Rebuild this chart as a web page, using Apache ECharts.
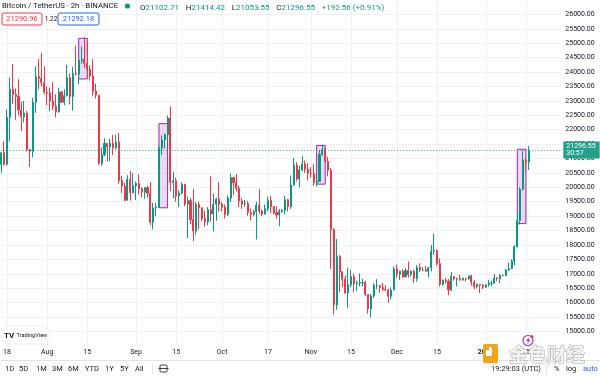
<!DOCTYPE html>
<html>
<head>
<meta charset="utf-8">
<script src="https://cdn.jsdelivr.net/npm/echarts@6/dist/echarts.min.js"></script>
<style>
  html, body { margin: 0; padding: 0; background: #fff; }
  #chart { width: 600px; height: 377px; }
</style>
</head>
<body>
<div id="chart"></div>
<script>
// daily bars, rows are [open, high, low, close]
const jul = [
  [20800,21200,20500,21200],[21200,21600,20750,20800],[20800,22700,20750,22430],[22430,23800,21600,23400],
  [23400,24280,22900,23220],[23220,23430,22340,23150],[23150,23750,22500,22680],[22680,22980,21950,22450],
  [22450,22990,22250,22580],[22580,22650,21250,21310],[21310,21330,20700,21250],[21250,23100,21040,22950],
  [22950,24200,22580,23840],[23840,24450,23400,23780],[23780,24670,23500,23640],[23640,24200,23230,23300]
];
const aug = [
  [23300,23500,22850,23270],[23270,23460,22650,22990],[22990,23650,22680,22820],[22820,23230,22430,22620],
  [22620,23460,22590,23310],[23310,23350,22930,22950],[22950,23400,22850,23180],[23180,24250,23150,23810],
  [23810,23950,22880,23150],[23150,24180,22660,23950],[23950,24920,23880,23930],[23930,24460,23580,24400],
  [24400,24890,24290,24440],[24440,25210,24150,24300],[24300,25050,23770,24100],[24100,24230,23700,23860],
  [23860,24450,23180,23340],[23340,23600,23080,23200],[23200,23200,20780,20830],[20830,21380,20750,21140],
  [21140,21700,21080,21520],[21520,21530,20900,21400],[21400,21680,20900,21530],[21530,21820,21120,21370],
  [21370,21820,21310,21570],[21570,21880,20120,20240],[20240,20400,19800,20040],[20040,20150,19520,19550],
  [19550,20420,19550,20280],[20280,20570,19540,19810],[19810,20490,19800,20050]
];
const sep = [
  [20050,20200,19560,20130],[20130,20450,19760,19950],[19950,20000,19650,19830],[19830,20000,19600,19990],
  [19990,20060,19640,19790],[19790,20180,18680,18790],[18790,19460,18540,19290],[19290,19450,19000,19320],
  [19320,21400,19300,21360],[21360,21800,21110,21650],[21650,21860,21350,21830],[21830,22490,21560,22400],
  [22400,22800,19860,20170],[20170,20530,19620,20230],[20230,20330,19500,19700],[19700,19890,19320,19800],
  [19800,20180,19760,20110],[20110,20110,19340,19420],[19420,19680,18230,19540],[19540,19630,18720,18880],
  [18880,19950,18130,18480],[18480,19490,18360,19400],[19400,19500,18540,19290],[19290,19300,18820,18920],
  [18920,19180,18630,18800],[18800,19310,18680,19220],[19220,20380,18810,19080],[19080,19790,18470,19410],
  [19410,19640,18840,19590],[19590,20180,19160,19420]
];
const oct = [
  [19420,19480,19160,19310],[19310,19400,18920,19060],[19060,19720,19000,19630],[19630,20480,19490,20340],
  [20340,20370,19730,20160],[20160,20460,19860,19960],[19960,20060,19320,19530],[19530,19620,19250,19420],
  [19420,19560,19320,19440],[19440,19530,19020,19130],[19130,19260,18860,19060],[19060,19220,18990,19150],
  [19150,19500,18190,19380],[19380,19950,19070,19180],[19180,19230,19000,19070],[19070,19400,19060,19260],
  [19260,19680,19160,19550],[19550,19700,19100,19330],[19330,19350,19070,19120],[19120,19340,18900,19040],
  [19040,19250,18650,19160],[19160,19250,19110,19200],[19200,19700,19070,19570],[19570,19600,19160,19330],
  [19330,20410,19250,20080],[20080,21020,20060,20770],[20770,20870,20200,20290],[20290,20750,20000,20600],
  [20600,21080,20560,20810],[20810,20930,20500,20630],[20630,20840,20240,20490]
];
const nov = [
  [20490,20700,20330,20480],[20480,20800,20050,20160],[20160,20390,20030,20210],[20210,21300,20180,21150],
  [21150,21480,21080,21300],[21300,21370,20880,20900],[20900,21060,20380,20590],[20590,20670,17170,18540],
  [18540,18590,15590,15920],[15920,18200,15750,17600],[17600,17650,16360,17070],[17070,17090,16550,16810],
  [16810,16940,16300,16330],[16330,17200,15820,16620],[16620,17140,16530,16900],[16900,17000,16360,16660],
  [16660,16760,16400,16680],[16680,17010,16560,16690],[16690,16820,16560,16700],[16700,16760,16230,16280],
  [16280,16290,15620,15780],[15780,16300,15480,16230],[16230,16670,16160,16600],[16600,16810,16460,16600],
  [16600,16600,16330,16520],[16520,16690,16400,16460],[16460,16600,16400,16440],[16440,16480,16000,16220],
  [16220,16530,16110,16440],[16440,17250,16430,17170]
];
const dec = [
  [17170,17320,16860,16980],[16980,17100,16790,17090],[17090,17160,16860,16890],[16890,17200,16880,17110],
  [17110,17420,16870,16970],[16970,17110,16910,17090],[17090,17140,16680,16840],[16840,17300,16730,17220],
  [17220,17360,17060,17130],[17130,17230,17090,17130],[17130,17270,17070,17090],[17090,17240,16870,17210],
  [17210,18000,17080,17780],[17780,18390,17660,17800],[17800,17850,17280,17350],[17350,17530,16560,16630],
  [16630,16800,16580,16780],[16780,16860,16660,16740],[16740,16820,16260,16440],[16440,17060,16400,16900],
  [16900,16920,16760,16820],[16820,16870,16560,16830],[16830,16960,16760,16780],[16780,16870,16770,16840],
  [16840,16860,16730,16830],[16830,16940,16790,16920],[16920,16970,16590,16710],[16710,16780,16460,16550],
  [16550,16660,16490,16630],[16630,16640,16330,16600],[16600,16650,16470,16540]
];
const jan = [
  [16540,16630,16500,16620],[16620,16790,16550,16670],[16670,16760,16570,16670],[16670,16990,16660,16850],
  [16850,16880,16750,16830],[16830,16990,16670,16950],[16950,16970,16910,16940],[16940,17170,16910,17130],
  [17130,17390,17100,17180],[17180,17500,17160,17440],[17440,17990,17300,17940],[17940,19120,17910,18850],
  [18850,20000,18710,19930],[19930,21260,19890,20950],[20950,21000,20550,20880],[20880,21440,20600,21296.55]
];

// time scale ticks
const tickDates = ['2022-07-18','2022-08-01','2022-08-15','2022-09-01','2022-09-15','2022-10-01','2022-10-17',
  '2022-11-01','2022-11-15','2022-12-01','2022-12-15','2023-01-01','2023-01-15'];
const tickLabels = ['18','Aug','15','Sep','15','Oct','17','Nov','15','Dec','15','2023','15'];

// highlighted zones [fromDate, toDate, lowPrice, highPrice]
const highlights = [
  ['2022-08-12','2022-08-15',23760,25170],
  ['2022-09-09','2022-09-12',19290,22210],
  ['2022-11-03','2022-11-06',20110,21450],
  ['2023-01-12','2023-01-15',18740,21320]
];

// header values
const lastBar = [21102.71, 21414.42, 21053.55, 21296.55];
const change = [192.56, 0.91];
const quote = [21290.96, 1.22, 21292.18];
const countdown = '30:57';
const clock = '19:29:03 (UTC)';
const ranges = ['1D','5D','1M','3M','6M','YTD','1Y','5Y','All'];

const bars = [].concat(jul, aug, sep, oct, nov, dec, jan);
const dates = [];
const start = Date.UTC(2022, 6, 16);
for (let i = 0; i < bars.length + 11; i++) {
  dates.push(new Date(start + i * 86400000).toISOString().slice(0, 10));
}
const kData = bars.map(function (b) { return [b[0], b[3], b[2], b[1]]; });

const UP = '#089981';
const DOWN = '#f23645';
const GRID = '#eef1f6';
const TXT = '#131722';
const FONT = 'Roboto';

const chart = echarts.init(document.getElementById('chart'), null, { renderer: 'canvas' });

const isTick = function (idx, val) { return tickDates.indexOf(val) >= 0; };

const toolbar = ranges.map(function (r, i) {
  const xs = [5, 19, 36, 52, 68, 85, 105, 120, 135];
  return { type: 'text', left: xs[i], top: 365, z: 50,
    style: { text: r, fill: TXT, font: '7.5px ' + FONT } };
});

chart.setOption({
  animation: false,
  backgroundColor: '#ffffff',
  grid: { left: 1.3, right: 39.7, top: -4.6, bottom: 31.2 },
  xAxis: {
    type: 'category',
    data: dates,
    boundaryGap: false,
    axisLine: { show: false },
    axisTick: { show: false },
    axisLabel: {
      interval: isTick,
      margin: 3,
      fontSize: 7,
      fontFamily: FONT,
      color: TXT,
      formatter: function (v) {
        const t = tickLabels[tickDates.indexOf(v)];
        return t === '2023' ? '{b|' + t + '}' : t;
      },
      rich: { b: { fontWeight: 'bold', fontSize: 7, fontFamily: FONT, color: TXT } }
    },
    splitLine: { show: true, interval: isTick, lineStyle: { color: GRID, width: 1 } }
  },
  yAxis: {
    type: 'value',
    position: 'right',
    min: 14500,
    max: 26500,
    interval: 500,
    axisLine: { show: false },
    axisTick: { show: false },
    axisLabel: {
      showMinLabel: false,
      showMaxLabel: false,
      margin: 5,
      fontSize: 7,
      fontFamily: FONT,
      color: TXT,
      formatter: function (v) { return v.toFixed(2); }
    },
    splitLine: { show: true, showMinLine: false, showMaxLine: false, lineStyle: { color: GRID, width: 1 } }
  },
  series: [{
    type: 'candlestick',
    data: kData,
    barWidth: 1.6,
    itemStyle: { color: UP, color0: DOWN, borderColor: UP, borderColor0: DOWN, borderWidth: 1 },
    markArea: {
      silent: true,
      itemStyle: { color: 'rgba(206,147,216,0.36)', borderColor: '#9c27b0', borderWidth: 1 },
      data: highlights.map(function (h) {
        return [{ xAxis: h[0], yAxis: h[3] }, { xAxis: h[1], yAxis: h[2] }];
      })
    },
    markLine: {
      silent: true,
      symbol: 'none',
      lineStyle: { color: '#22a08a', type: [1, 2], width: 1 },
      label: {
        position: 'end',
        distance: 3,
        formatter: lastBar[3].toFixed(2) + '\n' + countdown,
        backgroundColor: '#22a08a',
        color: '#ffffff',
        fontSize: 7,
        lineHeight: 7.5,
        fontFamily: FONT,
        align: 'left',
        padding: [1.5, 4, 0.5, 3]
      },
      data: [{ yAxis: lastBar[3] }]
    }
  }],
  graphic: [
    { type: 'text', left: 2, top: 2, z: 50,
      style: { text: 'Bitcoin / TetherUS · 2h · BINANCE', fill: TXT, font: '7.8px ' + FONT } },
    { type: 'circle', z: 50, shape: { cx: 127.5, cy: 6, r: 2.6 }, style: { fill: UP } },
    { type: 'text', left: 140, top: 2, z: 50,
      style: {
        text: '{k|O}{v|' + lastBar[0].toFixed(2) + '}  {k|H}{v|' + lastBar[1].toFixed(2) + '}  {k|L}{v|' +
          lastBar[2].toFixed(2) + '}  {k|C}{v|' + lastBar[3].toFixed(2) + '}  {v|+' + change[0].toFixed(2) +
          ' (+' + change[1].toFixed(2) + '%)}',
        rich: {
          k: { fill: TXT, font: '8px ' + FONT },
          v: { fill: UP, font: '8px ' + FONT }
        }
      } },
    { type: 'rect', z: 50, shape: { x: 2, y: 13, width: 40, height: 12, r: 2 },
      style: { fill: '#fff', stroke: DOWN, lineWidth: 1 } },
    { type: 'text', z: 51, style: { x: 22, y: 19.5, text: quote[0].toFixed(2), fill: DOWN, font: '7.5px ' + FONT, align: 'center', verticalAlign: 'middle' } },
    { type: 'text', z: 51, style: { x: 51, y: 19.5, text: quote[1].toFixed(2), fill: TXT, font: '6.5px ' + FONT, align: 'center', verticalAlign: 'middle' } },
    { type: 'rect', z: 50, shape: { x: 58, y: 13, width: 41, height: 12, r: 2 },
      style: { fill: '#fff', stroke: '#2962ff', lineWidth: 1 } },
    { type: 'text', z: 51, style: { x: 78.5, y: 19.5, text: quote[2].toFixed(2), fill: '#2962ff', font: '7.5px ' + FONT, align: 'center', verticalAlign: 'middle' } },

    // TradingView badge
    { type: 'rect', z: 50, shape: { x: 1, y: 326, width: 49, height: 18, r: 9 },
      style: { fill: '#ffffff', stroke: '#eceff3', lineWidth: 1 } },
    { type: 'text', z: 51, style: { x: 4, y: 335.5, text: 'TV', fill: '#131722', font: 'bold 8px ' + FONT, verticalAlign: 'middle' } },
    { type: 'text', z: 51, style: { x: 16.5, y: 335.5, text: 'TradingView', fill: '#131722', font: '5.6px ' + FONT, verticalAlign: 'middle' } },

    // lightning badge
    { type: 'circle', z: 50, shape: { cx: 528, cy: 340.5, r: 5 }, style: { fill: '#fff', stroke: '#9c27b0', lineWidth: 1.1 } },
    { type: 'polygon', z: 51, shape: { points: [[529.3, 337], [526.2, 341], [528.2, 341], [527, 344], [530.3, 339.8], [528.4, 339.8]] },
      style: { fill: '#9c27b0' } },
    { type: 'circle', z: 52, shape: { cx: 532, cy: 336.5, r: 1.6 }, style: { fill: DOWN } },

    // bottom toolbar
    { type: 'line', z: 50, shape: { x1: 0, y1: 360.5, x2: 600, y2: 360.5 }, style: { stroke: '#e0e3eb', lineWidth: 1 } }
  ].concat(toolbar).concat([
    { type: 'line', z: 50, shape: { x1: 152.5, y1: 364, x2: 152.5, y2: 374 }, style: { stroke: '#e0e3eb', lineWidth: 1 } },
    { type: 'rect', z: 50, shape: { x: 160, y: 365, width: 7, height: 7, r: 1 }, style: { fill: 'none', stroke: TXT, lineWidth: 0.8 } },
    { type: 'line', z: 50, shape: { x1: 158.5, y1: 368.5, x2: 168.5, y2: 368.5 }, style: { stroke: TXT, lineWidth: 0.8 } },
    { type: 'text', left: 491, top: 365, z: 50, style: { text: clock, fill: TXT, font: '7.5px ' + FONT } },
    { type: 'line', z: 50, shape: { x1: 546.5, y1: 364, x2: 546.5, y2: 374 }, style: { stroke: '#e0e3eb', lineWidth: 1 } },
    { type: 'text', left: 554, top: 365, z: 50, style: { text: '%', fill: TXT, font: '7.5px ' + FONT } },
    { type: 'text', left: 566, top: 365, z: 50, style: { text: 'log', fill: TXT, font: '7.5px ' + FONT } },
    { type: 'text', left: 583, top: 365, z: 50, style: { text: 'auto', fill: '#2962ff', font: '7.5px ' + FONT } },

    // watermark
    { type: 'rect', z: 90, shape: { x: 483, y: 344, width: 15, height: 19, r: 1.5 }, style: { fill: '#f5a31a' } },
    { type: 'rect', z: 91, shape: { x: 486, y: 347, width: 6, height: 9 }, style: { fill: '#ffffff' } },
    { type: 'rect', z: 91, shape: { x: 486, y: 347, width: 3, height: 3 }, style: { fill: '#f5a31a' } },
    { type: 'text', z: 90, style: { x: 509, y: 354.5, text: '金色财经', fill: '#f4f4f4', stroke: '#a8a8a8', lineWidth: 1,
      font: 'bold 19px "Noto Sans CJK SC"', verticalAlign: 'middle' } }
  ])
});
</script>
</body>
</html>
